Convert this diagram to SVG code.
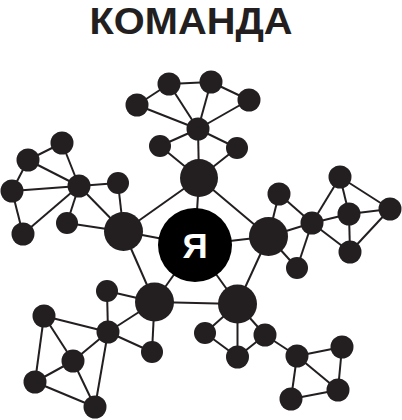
<svg xmlns="http://www.w3.org/2000/svg" width="402" height="420" viewBox="0 0 402 420">
<style>
.e line{stroke:#231f20;stroke-width:2}
.n{fill:#231f20}
.t{font-family:"Liberation Sans",Arial,sans-serif;font-weight:bold}
</style>
<rect width="402" height="420" fill="#fff"/>
<text id="title" class="t" x="191" y="33.5" font-size="36" text-anchor="middle" fill="#231f20" textLength="203" lengthAdjust="spacingAndGlyphs">КОМАНДА</text>
<g class="e" id="connectors">
<line x1="195" y1="245" x2="199" y2="178"/>
<line x1="195" y1="245" x2="123.5" y2="231.5"/>
<line x1="195" y1="245" x2="268.5" y2="236.5"/>
<line x1="195" y1="245" x2="154.5" y2="302"/>
<line x1="195" y1="245" x2="237.5" y2="304"/>
<line x1="199" y1="178" x2="123.5" y2="231.5"/>
<line x1="199" y1="178" x2="268.5" y2="236.5"/>
<line x1="123.5" y1="231.5" x2="154.5" y2="302"/>
<line x1="268.5" y1="236.5" x2="237.5" y2="304"/>
<line x1="154.5" y1="302" x2="237.5" y2="304"/>
<line x1="137" y1="105" x2="169" y2="84"/>
<line x1="169" y1="84" x2="211" y2="82"/>
<line x1="211" y1="82" x2="249" y2="100"/>
<line x1="137" y1="105" x2="198" y2="129"/>
<line x1="169" y1="84" x2="198" y2="129"/>
<line x1="211" y1="82" x2="198" y2="129"/>
<line x1="249" y1="100" x2="198" y2="129"/>
<line x1="198" y1="129" x2="160" y2="146"/>
<line x1="198" y1="129" x2="237" y2="148"/>
<line x1="198" y1="129" x2="199" y2="178"/>
<line x1="160" y1="146" x2="199" y2="178"/>
<line x1="237" y1="148" x2="199" y2="178"/>
<line x1="62" y1="143" x2="28" y2="160"/>
<line x1="28" y1="160" x2="12" y2="191"/>
<line x1="12" y1="191" x2="23" y2="234"/>
<line x1="62" y1="143" x2="79" y2="186"/>
<line x1="28" y1="160" x2="79" y2="186"/>
<line x1="12" y1="191" x2="79" y2="186"/>
<line x1="23" y1="234" x2="79" y2="186"/>
<line x1="79" y1="186" x2="118" y2="183"/>
<line x1="79" y1="186" x2="67" y2="223"/>
<line x1="79" y1="186" x2="123.5" y2="231.5"/>
<line x1="118" y1="183" x2="123.5" y2="231.5"/>
<line x1="67" y1="223" x2="123.5" y2="231.5"/>
<line x1="279" y1="194" x2="312" y2="223"/>
<line x1="279" y1="194" x2="268.5" y2="236.5"/>
<line x1="312" y1="223" x2="268.5" y2="236.5"/>
<line x1="312" y1="223" x2="340" y2="177"/>
<line x1="312" y1="223" x2="349" y2="214"/>
<line x1="312" y1="223" x2="350" y2="252"/>
<line x1="340" y1="177" x2="349" y2="214"/>
<line x1="340" y1="177" x2="390" y2="209"/>
<line x1="349" y1="214" x2="390" y2="209"/>
<line x1="349" y1="214" x2="350" y2="252"/>
<line x1="390" y1="209" x2="350" y2="252"/>
<line x1="312" y1="223" x2="297" y2="268"/>
<line x1="297" y1="268" x2="268.5" y2="236.5"/>
<line x1="107" y1="291" x2="108" y2="332"/>
<line x1="107" y1="291" x2="154.5" y2="302"/>
<line x1="108" y1="332" x2="154.5" y2="302"/>
<line x1="108" y1="332" x2="44" y2="316"/>
<line x1="108" y1="332" x2="73" y2="361"/>
<line x1="108" y1="332" x2="95" y2="407"/>
<line x1="108" y1="332" x2="152" y2="352"/>
<line x1="152" y1="352" x2="154.5" y2="302"/>
<line x1="44" y1="316" x2="73" y2="361"/>
<line x1="44" y1="316" x2="35" y2="382"/>
<line x1="73" y1="361" x2="35" y2="382"/>
<line x1="73" y1="361" x2="95" y2="407"/>
<line x1="35" y1="382" x2="95" y2="407"/>
<line x1="205" y1="333" x2="237.5" y2="304"/>
<line x1="205" y1="333" x2="237.5" y2="357"/>
<line x1="237.5" y1="357" x2="237.5" y2="304"/>
<line x1="237.5" y1="357" x2="265" y2="335"/>
<line x1="265" y1="335" x2="237.5" y2="304"/>
<line x1="265" y1="335" x2="297" y2="356"/>
<line x1="297" y1="356" x2="342" y2="347"/>
<line x1="297" y1="356" x2="338" y2="390"/>
<line x1="297" y1="356" x2="291" y2="399"/>
<line x1="342" y1="347" x2="338" y2="390"/>
<line x1="338" y1="390" x2="291" y2="399"/>
</g>
<g id="center"><circle cx="195" cy="245" r="37" fill="#000"/><text class="t" x="195" y="257.5" font-size="35" text-anchor="middle" fill="#fff">Я</text></g>
<g id="p-top"><circle class="n" cx="199" cy="178" r="19"/></g>
<g id="p-left"><circle class="n" cx="123.5" cy="231.5" r="19.5"/></g>
<g id="p-right"><circle class="n" cx="268.5" cy="236.5" r="19.5"/></g>
<g id="p-bl"><circle class="n" cx="154.5" cy="302" r="19.5"/></g>
<g id="p-br"><circle class="n" cx="237.5" cy="304" r="19.5"/></g>
<g id="t1"><circle class="n" cx="137" cy="105" r="11.5"/></g>
<g id="t2"><circle class="n" cx="169" cy="84" r="11.5"/></g>
<g id="t3"><circle class="n" cx="211" cy="82" r="11.5"/></g>
<g id="t4"><circle class="n" cx="249" cy="100" r="11.5"/></g>
<g id="t5"><circle class="n" cx="198" cy="129" r="11.5"/></g>
<g id="t6"><circle class="n" cx="160" cy="146" r="11"/></g>
<g id="t7"><circle class="n" cx="237" cy="148" r="11"/></g>
<g id="l1"><circle class="n" cx="62" cy="143" r="11.5"/></g>
<g id="l2"><circle class="n" cx="28" cy="160" r="11.5"/></g>
<g id="l3"><circle class="n" cx="12" cy="191" r="11.5"/></g>
<g id="l4"><circle class="n" cx="23" cy="234" r="11.5"/></g>
<g id="l5"><circle class="n" cx="79" cy="186" r="11.5"/></g>
<g id="l6"><circle class="n" cx="118" cy="183" r="11"/></g>
<g id="l7"><circle class="n" cx="67" cy="223" r="11"/></g>
<g id="r1"><circle class="n" cx="279" cy="194" r="11.5"/></g>
<g id="r2"><circle class="n" cx="312" cy="223" r="11.5"/></g>
<g id="r3"><circle class="n" cx="340" cy="177" r="11.5"/></g>
<g id="r4"><circle class="n" cx="349" cy="214" r="11.5"/></g>
<g id="r5"><circle class="n" cx="390" cy="209" r="11.5"/></g>
<g id="r6"><circle class="n" cx="350" cy="252" r="11.5"/></g>
<g id="r7"><circle class="n" cx="297" cy="268" r="11"/></g>
<g id="bl1"><circle class="n" cx="107" cy="291" r="11"/></g>
<g id="bl2"><circle class="n" cx="108" cy="332" r="11.5"/></g>
<g id="bl3"><circle class="n" cx="44" cy="316" r="11.5"/></g>
<g id="bl4"><circle class="n" cx="73" cy="361" r="11.5"/></g>
<g id="bl5"><circle class="n" cx="35" cy="382" r="11.5"/></g>
<g id="bl6"><circle class="n" cx="95" cy="407" r="11.5"/></g>
<g id="bl7"><circle class="n" cx="152" cy="352" r="11"/></g>
<g id="br1"><circle class="n" cx="205" cy="333" r="11"/></g>
<g id="br2"><circle class="n" cx="237.5" cy="357" r="11.5"/></g>
<g id="br3"><circle class="n" cx="265" cy="335" r="11.5"/></g>
<g id="br4"><circle class="n" cx="297" cy="356" r="11.5"/></g>
<g id="br5"><circle class="n" cx="342" cy="347" r="11.5"/></g>
<g id="br6"><circle class="n" cx="338" cy="390" r="11.5"/></g>
<g id="br7"><circle class="n" cx="291" cy="399" r="11.5"/></g>
</svg>
